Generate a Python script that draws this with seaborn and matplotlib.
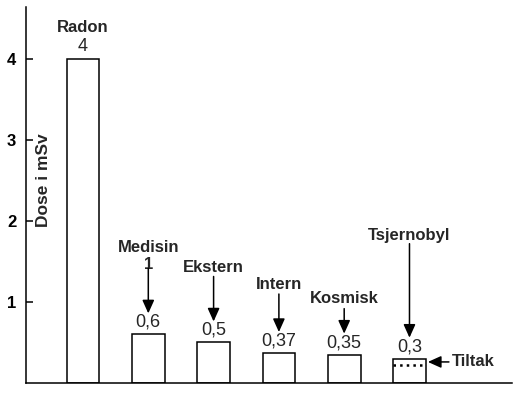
import matplotlib
matplotlib.use("Agg")
import matplotlib.pyplot as plt
import seaborn as sns
import pandas as pd

# --- data ---
sources = ["Radon", "Medisin", "Ekstern", "Intern", "Kosmisk", "Tsjernobyl"]
doses = [4, 0.6, 0.5, 0.37, 0.35, 0.3]
dose_labels = ["4", "0,6", "0,5", "0,37", "0,35", "0,3"]
notes = ["", "1", "", "", "", ""]
tiltak_level = 0.22
yticks = [1, 2, 3, 4]

# label layout in pixels above the bar top (None = no arrow)
name_px = [31, 87, 75, 69, 56, 123]
arrow_px = [None, 66, 66, 59, 46, 115]

PX = 0.72  # points per pixel at dpi 100
ARROW = "-|>,head_length=0.8,head_width=0.36"

sns.set_theme(style="white")
plt.rcParams["font.family"] = ["Liberation Sans", "DejaVu Sans"]

fig = plt.figure(figsize=(5.14, 3.95), dpi=100)
ax = fig.add_axes([26 / 514, 12 / 395, 486 / 514, 376 / 395])

df = pd.DataFrame({"kilde": sources, "dose": doses})
sns.barplot(data=df, x="kilde", y="dose", ax=ax, color="white",
            saturation=1, edgecolor="black", linewidth=1.1, width=0.5)

ax.set_xlim(-0.873, 6.57)
ax.set_ylim(0, 4.64)
ax.set_xticks([])
ax.set_xlabel("")
ax.set_ylabel("")
ax.set_yticks(yticks)
ax.set_yticklabels([str(t) for t in yticks], fontweight="bold")
ax.tick_params(axis="y", direction="in", length=5, width=1.1, pad=7,
               labelsize=12, colors="black", left=True)
for side in ["top", "right"]:
    ax.spines[side].set_visible(False)
for side in ["left", "bottom"]:
    ax.spines[side].set_color("black")
    ax.spines[side].set_linewidth(1.1)

ax.text(0.035, 0.54, "Dose i mSv", rotation=90, transform=ax.transAxes,
        ha="center", va="center", fontsize=12.5, fontweight="bold")

# labels and arrows over each bar
for i, (v, lab, name, note) in enumerate(zip(doses, dose_labels, sources, notes)):
    ax.annotate(lab, xy=(i, v), xytext=(0, 12 * PX), textcoords="offset points",
                ha="center", va="center", fontsize=13)
    ax.annotate(name, xy=(i, v), xytext=(0, name_px[i] * PX), textcoords="offset points",
                ha="center", va="center", fontsize=12, fontweight="bold")
    if note:
        ax.annotate(note, xy=(i, v), xytext=(0, (arrow_px[i] + 4) * PX),
                    textcoords="offset points", ha="center", va="center",
                    fontsize=12, fontweight="bold")
    if arrow_px[i] is not None:
        ax.annotate("", xy=(i, v), xytext=(0, arrow_px[i] * PX), textcoords="offset points",
                    arrowprops=dict(arrowstyle=ARROW, color="black", lw=1.1,
                                    mutation_scale=10, shrinkA=0, shrinkB=21 * PX))

# Tsjernobyl: level after measures ("Tiltak")
bar = ax.patches[len(sources) - 1]
left = bar.get_x()
right = bar.get_x() + bar.get_width()
ax.hlines(tiltak_level, left, right, colors="black", linestyles=":", lw=1.8)
ax.annotate("Tiltak", xy=(right, (doses[-1] + tiltak_level) / 2), xytext=(19, 0),
            textcoords="offset points", ha="left", va="center",
            fontsize=12, fontweight="bold",
            arrowprops=dict(arrowstyle=ARROW, color="black", lw=1.1,
                            mutation_scale=10, shrinkA=0, shrinkB=1.5))

fig.savefig("out.png", dpi=100)
